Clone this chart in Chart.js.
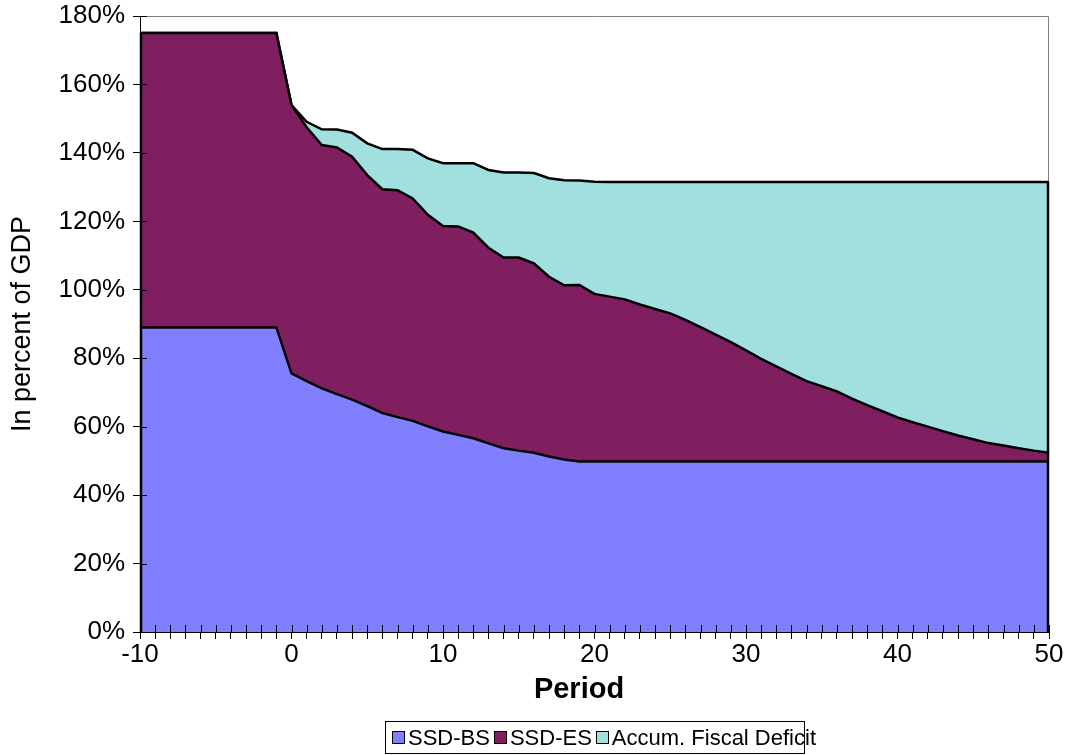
<!DOCTYPE html>
<html>
<head>
<meta charset="utf-8">
<script src="https://cdn.jsdelivr.net/npm/chart.js@4/dist/chart.umd.min.js"></script>
<style>
  html, body { margin: 0; padding: 0; background: #fff; }
  #wrap { position: relative; width: 1069px; height: 755px; }
  #legend {
    position: absolute; left: 385px; top: 721px; width: 412px; height: 31px;
    border: 1px solid #000; box-sizing: content-box;
    font-family: "Liberation Sans", Arial, sans-serif; font-size: 22px;
    white-space: nowrap; display: flex; align-items: center; padding-left: 6px;
  }
  #legend .item { display: flex; align-items: center; margin-right: 4px; }
  #legend .box { width: 11px; height: 11px; border: 1px solid #000; margin-right: 3px; }
</style>
</head>
<body>
<div id="wrap">
  <canvas id="c" width="1069" height="755"></canvas>
  <div id="legend"></div>
</div>
<script>
const periods = [-10,-9,-8,-7,-6,-5,-4,-3,-2,-1,0,1,2,3,4,5,6,7,8,9,10,11,12,13,14,15,16,17,18,19,20,21,22,23,24,25,26,27,28,29,30,31,32,33,34,35,36,37,38,39,40,41,42,43,44,45,46,47,48,49,50];

const ssdBS = [89,89,89,89,89,89,89,89,89,89,
  75.6,73.3,71.2,69.5,67.9,66.0,64.0,62.8,61.7,60.1,
  58.6,57.6,56.6,55.1,53.7,53.0,52.4,51.3,50.4,49.8,
  49.8,49.8,49.8,49.8,49.8,49.8,49.8,49.8,49.8,49.8,
  49.8,49.8,49.8,49.8,49.8,49.8,49.8,49.8,49.8,49.8,
  49.8,49.8,49.8,49.8,49.8,49.8,49.8,49.8,49.8,49.8,49.8];

const ssdES = [86,86,86,86,86,86,86,86,86,86,
  78.4,74.2,71.1,72.1,71.0,67.5,65.4,66.3,65.0,61.8,
  60.0,60.9,60.1,57.2,55.7,56.4,55.3,52.5,50.9,51.6,
  49.0,48.2,47.4,45.9,44.6,43.3,41.4,39.3,37.1,34.9,
  32.5,30.0,27.8,25.6,23.5,22.0,20.5,18.4,16.5,14.7,
  12.9,11.5,10.2,8.9,7.6,6.5,5.4,4.7,3.9,3.2,2.6];

const fiscalDeficit = [0,0,0,0,0,0,0,0,0,0,
  0,1.6,4.6,5.2,7.0,9.3,11.7,12.0,14.2,16.5,
  18.4,18.5,20.3,22.7,24.9,24.9,26.4,28.8,30.7,30.5,
  32.8,33.5,34.3,35.8,37.1,38.4,40.3,42.4,44.6,46.8,
  49.2,51.7,53.9,56.1,58.2,59.7,61.2,63.3,65.2,67.0,
  68.8,70.2,71.5,72.8,74.1,75.2,76.3,77.0,77.8,78.5,79.1];

const seriesNames = ["SSD-BS", "SSD-ES", "Accum. Fiscal Deficit"];
const seriesColors = ["#8080FF", "#7F1F5F", "#A2DFDF"];
const yTickValues = [0,20,40,60,80,100,120,140,160,180];
const xAxisTitle = "Period";

const FONT = '"Liberation Sans", Arial, sans-serif';
Chart.defaults.font.family = FONT;
Chart.defaults.color = '#000';

const edgePlugin = {
  id: 'edges',
  beforeDatasetsDraw(chart) {
    const {ctx, chartArea: a} = chart;
    ctx.save();
    ctx.strokeStyle = '#808080';
    ctx.lineWidth = 1;
    ctx.beginPath();
    ctx.moveTo(a.left, a.top + 0.5);
    ctx.lineTo(a.right - 0.5, a.top + 0.5);
    ctx.lineTo(a.right - 0.5, a.bottom);
    ctx.stroke();
    ctx.restore();
  },
  afterDatasetsDraw(chart) {
    const {ctx, chartArea: a, scales: {x, y}} = chart;
    const ds = chart.data.datasets;
    const n = periods.length;
    const sumAt = i => ds.reduce((s, d) => s + d.data[i], 0);
    ctx.save();
    ctx.strokeStyle = '#000';
    ctx.lineWidth = 2.5;
    ctx.beginPath();
    ctx.moveTo(a.left + 1, y.getPixelForValue(0));
    ctx.lineTo(a.left + 1, y.getPixelForValue(sumAt(0)));
    ctx.moveTo(a.right - 1, y.getPixelForValue(0));
    ctx.lineTo(a.right - 1, y.getPixelForValue(sumAt(n - 1)));
    ctx.stroke();
    ctx.lineWidth = 1;
    ctx.beginPath();
    for (let i = 0; i < x.ticks.length; i++) {
      const px = Math.round(x.getPixelForTick(i)) + 0.5;
      ctx.moveTo(px, a.bottom);
      ctx.lineTo(px, a.bottom - 7);
    }
    for (let i = 0; i < y.ticks.length; i++) {
      const py = Math.round(y.getPixelForTick(i)) + 0.5;
      ctx.moveTo(a.left, py);
      ctx.lineTo(a.left + 7, py);
    }
    ctx.stroke();
    ctx.fillStyle = '#000';
    ctx.font = 'bold 29px ' + FONT;
    ctx.textAlign = 'center';
    ctx.textBaseline = 'middle';
    ctx.fillText(xAxisTitle, 579, 690);
    ctx.restore();
  }
};

const mk = (i, data, fill) => ({
  label: seriesNames[i],
  data: data,
  backgroundColor: seriesColors[i],
  borderColor: '#000',
  borderWidth: 2.5,
  pointRadius: 0,
  pointHoverRadius: 0,
  tension: 0,
  fill: fill
});

new Chart(document.getElementById('c'), {
  type: 'line',
  data: {
    labels: periods,
    datasets: [
      mk(0, ssdBS, 'origin'),
      mk(1, ssdES, '-1'),
      mk(2, fiscalDeficit, '-1')
    ]
  },
  options: {
    responsive: false,
    animation: false,
    devicePixelRatio: 1,
    layout: { padding: { top: 16, right: 20, bottom: 52, left: 0 } },
    plugins: { legend: { display: false }, tooltip: { enabled: false } },
    scales: {
      x: {
        type: 'category',
        offset: false,
        grid: { display: true, drawOnChartArea: false, drawTicks: true, tickLength: 7, color: '#000', offset: false },
        border: { display: true, color: '#000', width: 1 },
        ticks: {
          autoSkip: false, maxRotation: 0, minRotation: 0, padding: 0,
          font: { size: 26 },
          callback: function (v, i) { const p = periods[i]; return p % 10 === 0 ? String(p) : ''; }
        },
        afterFit(s) { s.height = 755 - 52 - 632; }
      },
      y: {
        stacked: true,
        min: 0, max: 180,
        afterBuildTicks(s) { s.ticks = yTickValues.map(v => ({ value: v })); },
        grid: { display: true, drawOnChartArea: false, drawTicks: true, tickLength: 7, color: '#000' },
        border: { display: true, color: '#000', width: 1 },
        ticks: { padding: 8, font: { size: 26, lineHeight: 0.5 }, callback: v => v + '%' },
        title: { display: true, text: 'In percent of GDP', font: { size: 27 }, padding: { top: 6, bottom: 0 } },
        afterFit(s) { s.width = 140; }
      }
    }
  },
  plugins: [edgePlugin]
});

const lg = document.getElementById('legend');
seriesNames.forEach((name, i) => {
  const it = document.createElement('div');
  it.className = 'item';
  const b = document.createElement('div');
  b.className = 'box';
  b.style.background = seriesColors[i];
  const t = document.createElement('span');
  t.textContent = name;
  it.appendChild(b); it.appendChild(t);
  lg.appendChild(it);
});
</script>
</body>
</html>
